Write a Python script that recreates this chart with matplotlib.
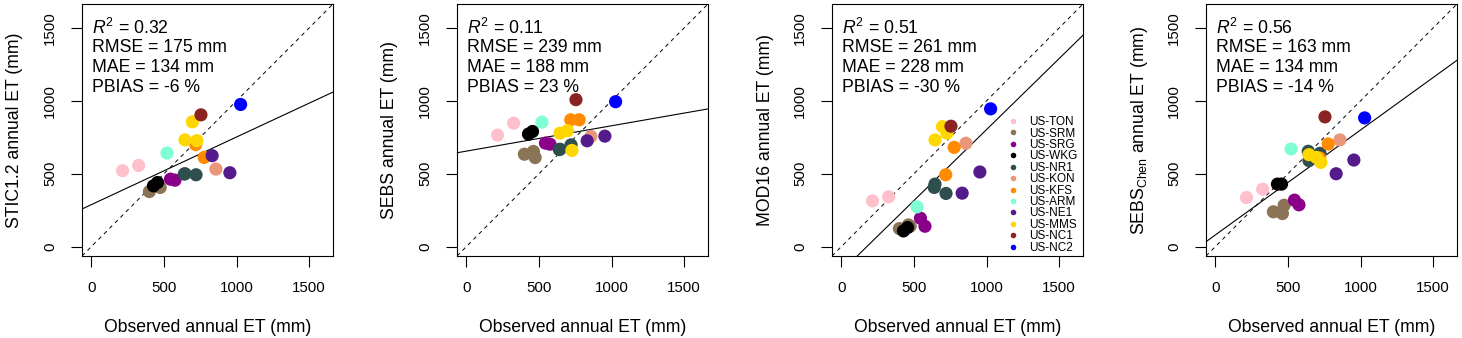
import matplotlib
matplotlib.use("Agg")
import matplotlib.pyplot as plt
from matplotlib.lines import Line2D
import numpy as np

plt.rcParams['font.family'] = ['Liberation Sans', 'DejaVu Sans']
plt.rcParams['mathtext.fontset'] = 'custom'
plt.rcParams['mathtext.rm'] = 'Liberation Sans'
plt.rcParams['mathtext.it'] = 'Liberation Sans:italic'
plt.rcParams['mathtext.bf'] = 'Liberation Sans:bold'

# ---------------- data ----------------
sites = ['US-TON', 'US-SRM', 'US-SRG', 'US-WKG', 'US-NR1', 'US-KON',
         'US-KFS', 'US-ARM', 'US-NE1', 'US-MMS', 'US-NC1', 'US-NC2']
site_colors = ['#FFC0CB', '#8B7355', '#8B008B', '#000000', '#2F4F4F', '#E9967A',
               '#FF8C00', '#7FFFD4', '#551A8B', '#FFD700', '#8B2323', '#0000FF']

# observed annual ET (mm) per site-year
obs = {
    'US-TON': [215, 326],
    'US-SRM': [400, 462, 474],
    'US-SRG': [545, 576],
    'US-WKG': [428, 456],
    'US-NR1': [640, 645, 721],
    'US-KON': [858],
    'US-KFS': [719, 777],
    'US-ARM': [521],
    'US-NE1': [832, 954],
    'US-MMS': [645, 696, 727],
    'US-NC1': [755],
    'US-NC2': [1028],
}

stic = {
    'US-TON': [521, 557],
    'US-SRM': [378, 420, 406],
    'US-SRG': [463, 456],
    'US-WKG': [417, 440],
    'US-NR1': [498, 500, 493],
    'US-KON': [532],
    'US-KFS': [700, 612],
    'US-ARM': [642],
    'US-NE1': [624, 507],
    'US-MMS': [732, 856, 727],
    'US-NC1': [904],
    'US-NC2': [975],
}

sebs = {
    'US-TON': [765, 847],
    'US-SRM': [634, 653, 611],
    'US-SRG': [710, 703],
    'US-WKG': [772, 790],
    'US-NR1': [666, 668, 698],
    'US-KON': [756],
    'US-KFS': [870, 870],
    'US-ARM': [854],
    'US-NE1': [726, 758],
    'US-MMS': [778, 795, 660],
    'US-NC1': [1008],
    'US-NC2': [994],
}

mod16 = {
    'US-TON': [314, 342],
    'US-SRM': [124, 149, 140],
    'US-SRG': [195, 140],
    'US-WKG': [108, 131],
    'US-NR1': [406, 429, 365],
    'US-KON': [709],
    'US-KFS': [493, 681],
    'US-ARM': [273],
    'US-NE1': [367, 512],
    'US-MMS': [732, 823, 778],
    'US-NC1': [826],
    'US-NC2': [945],
}

sebs_chen = {
    'US-TON': [337, 394],
    'US-SRM': [239, 227, 284],
    'US-SRG': [319, 287],
    'US-WKG': [429, 429],
    'US-NR1': [654, 590, 640],
    'US-KON': [732],
    'US-KFS': [608, 704],
    'US-ARM': [670],
    'US-NE1': [500, 594],
    'US-MMS': [631, 612, 578],
    'US-NC1': [890],
    'US-NC2': [883],
}

models = [stic, sebs, mod16, sebs_chen]
ylabels = ['STIC1.2 annual ET (mm)', 'SEBS annual ET (mm)', 'MOD16 annual ET (mm)',
           r'SEBS$_{\mathrm{Chen}}$ annual ET (mm)']
xlabel = 'Observed annual ET (mm)'

r2 = ['0.32', '0.11', '0.51', '0.56']
rmse = [175, 239, 261, 163]
mae = [134, 188, 228, 134]
pbias = [-6, 23, -30, -14]

# fitted regression lines (intercept, slope)
fit_intercept = [288, 655, -171, 80]
fit_slope = [0.464, 0.174, 0.974, 0.720]

ticks = [0, 500, 1000, 1500]

# ---------------- figure ----------------
W, H = 1462, 338
fig = plt.figure(figsize=(W / 100, H / 100), dpi=100)
lefts_px = [82, 457, 832, 1206]
ax_w, ax_h, ax_bottom = 251, 252, 82

for i, model in enumerate(models):
    ax = fig.add_axes([lefts_px[i] / W, ax_bottom / H, ax_w / W, ax_h / H])
    ax.set_xlim(-64, 1664)
    ax.set_ylim(-64, 1664)

    ax.axline((0, 0), slope=1, color='black', lw=0.7, ls=(0, (4, 4)), zorder=2)
    ax.axline((0, fit_intercept[i]), slope=fit_slope[i], color='black', lw=0.8, zorder=2)

    for s, c in zip(sites, site_colors):
        ax.scatter(obs[s], model[s], s=90, color=c, edgecolors='none', zorder=3)

    ax.set_xticks(ticks)
    ax.set_yticks(ticks)
    ax.tick_params(axis='both', direction='out', length=8, width=0.8,
                   labelsize=10.8, colors='black')
    ax.tick_params(axis='x', pad=10)
    ax.tick_params(axis='y', pad=10)
    for lab in ax.get_yticklabels():
        lab.set_rotation(90)
        lab.set_va('center')
    for sp in ax.spines.values():
        sp.set_linewidth(0.8)

    ax.set_xlabel(xlabel, fontsize=12.7, va='center')
    ax.xaxis.set_label_coords(0.5, -72 / ax_h)
    ax.set_ylabel(ylabels[i], fontsize=12.7, va='center')
    ax.yaxis.set_label_coords(-67 / ax_w, 0.5)

    lines = [r'$\mathit{R}^{2}$ = ' + r2[i],
             'RMSE = %d mm' % rmse[i],
             'MAE = %d mm' % mae[i],
             'PBIAS = %d %%' % pbias[i]]
    for k, t in enumerate(lines):
        ax.text(10 / ax_w, 1 - (24 + 20 * k) / ax_h, t, transform=ax.transAxes,
                fontsize=12.7, va='center', ha='left')

    if i == 2:
        handles = [Line2D([], [], ls='none', marker='o', markersize=4, color=c,
                          markeredgewidth=0) for c in site_colors]
        ax.legend(handles, sites, loc='center left', bbox_to_anchor=(0.697, 0.282),
                  frameon=False, fontsize=8.5, handlelength=1.0, handletextpad=0.85,
                  labelspacing=-0.05, borderpad=0, borderaxespad=0)

fig.savefig('out.png', dpi=100)
